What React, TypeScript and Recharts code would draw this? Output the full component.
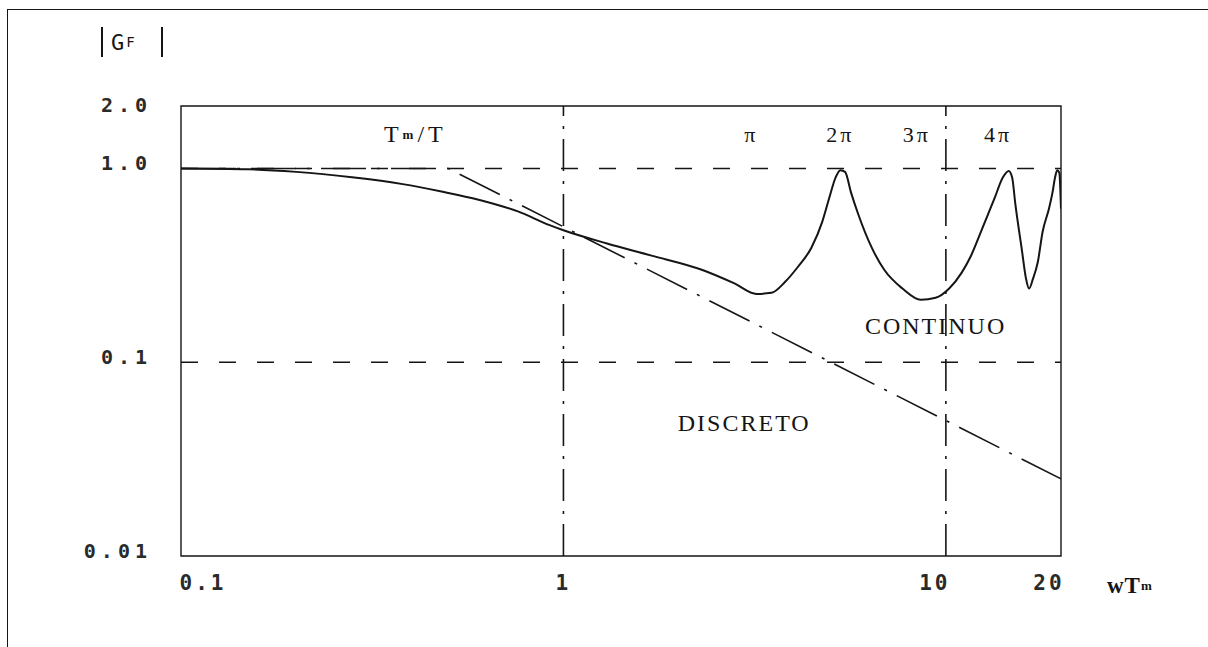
import {
  LineChart,
  Line,
  XAxis,
  YAxis,
  ReferenceLine,
  ReferenceArea,
  ReferenceDot,
} from 'recharts';

// wTm axis (log)
const xTicks = [0.1, 1, 10, 20];
const xTickLabels = ['0.1', '1', '10', '20'];
const xTickShift = [22, 0, -11, -12];

// |GF| axis (log)
const yTicks = [0.01, 0.1, 1, 2];
const yTickLabels = ['0.01', '0.1', '1.0', '2.0'];

// continuous response, read point by point
const solidW = [
  0.1, 0.15, 0.2, 0.28, 0.38, 0.48, 0.6, 0.76, 0.92, 1.0, 1.3, 1.7, 2.3, 2.8,
  3.2, 3.5, 3.8, 4.1, 4.45, 4.75, 4.95, 5.15, 5.3, 5.45, 5.65, 5.9, 6.4, 6.9,
  7.7, 8.6, 9.4, 10.2, 11.0, 11.6, 12.4, 13.4, 14.1, 14.6, 14.9, 15.2, 15.8,
  16.2, 16.5, 16.9, 17.4, 17.9, 18.6, 19.0, 19.3, 19.55, 19.8, 20,
];
const solidG = [
  1.0, 0.99, 0.96, 0.9, 0.83, 0.76, 0.69, 0.6, 0.51, 0.48, 0.41, 0.355, 0.3,
  0.255, 0.225, 0.228, 0.26, 0.31, 0.39, 0.53, 0.7, 0.9, 0.98, 0.96, 0.75,
  0.58, 0.39, 0.3, 0.24, 0.21, 0.215, 0.24, 0.29, 0.35, 0.48, 0.7, 0.9, 0.97,
  0.9, 0.65, 0.38, 0.27, 0.24, 0.27, 0.33, 0.47, 0.62, 0.75, 0.9, 0.98, 0.95,
  0.62,
];

// asymptote (dash-dot)
const asymW = [0.1, 0.5, 20];
const asymG = [1, 1, 0.025];

// labels inside the plot
const piLabels = ['π', '2π', '3π', '4π'];
const piLabelW = [3.1, 5.3, 8.4, 13.7];
const labelRowG = 1.5;

const solidData = solidW.map((w, i) => ({ w, g: solidG[i] }));
const asymData = asymW.map((w, i) => ({ w, g: asymG[i] }));

const ink = '#151515';
const monoSans = '"DejaVu Sans Mono", monospace';
const serif = '"Liberation Serif", serif';

function YTick({ x, y, payload }: any) {
  const i = yTicks.indexOf(payload.value);
  return (
    <text
      x={x - 29}
      y={y - 5}
      textAnchor="end"
      dominantBaseline="central"
      fontFamily={monoSans}
      fontSize={20}
      fontWeight={600}
      letterSpacing={5}
      fill="#2a2a2a"
    >
      {yTickLabels[i]}
    </text>
  );
}

function XTick({ x, y, payload }: any) {
  const i = xTicks.indexOf(payload.value);
  return (
    <text
      x={x + xTickShift[i]}
      y={y + 27}
      textAnchor="middle"
      dominantBaseline="central"
      fontFamily={monoSans}
      fontSize={21}
      fontWeight={600}
      letterSpacing={3}
      fill="#2a2a2a"
    >
      {xTickLabels[i]}
    </text>
  );
}

const textShape = (content: any, size = 22, spacing = 3) => (props: any) => (
  <text
    x={props.cx}
    y={props.cy}
    textAnchor="middle"
    dominantBaseline="central"
    fontFamily={serif}
    fontSize={size}
    letterSpacing={spacing}
    fill={ink}
  >
    {content}
  </text>
);

export default function App() {
  return (
    <div
      style={{
        position: 'fixed',
        left: 0,
        top: 0,
        width: 1208,
        height: 647,
        background: '#fff',
        overflow: 'hidden',
      }}
    >
      <div style={{ position: 'absolute', left: 7, top: 9, width: 1201, borderTop: `1.5px solid ${ink}` }} />
      <div style={{ position: 'absolute', left: 7, top: 9, height: 638, borderLeft: `1.5px solid ${ink}` }} />
      <div style={{ position: 'absolute', left: 0, top: 0 }}>
        <LineChart
          width={1208}
          height={647}
          margin={{ top: 106, right: 147, bottom: 51, left: 0 }}
        >
          <XAxis
            dataKey="w"
            type="number"
            scale="log"
            domain={[0.1, 20]}
            ticks={xTicks}
            allowDataOverflow
            axisLine={false}
            tickLine={false}
            tickSize={0}
            tickMargin={0}
            height={40}
            tick={<XTick />}
            label={{
              content: ({ viewBox }: any) => (
                <text
                  x={viewBox.x + viewBox.width + 46}
                  y={viewBox.y + 29}
                  textAnchor="start"
                  dominantBaseline="central"
                  fontFamily={serif}
                  fontSize={23}
                  fontWeight="bold"
                  letterSpacing={1}
                  fill={ink}
                >
                  wT<tspan fontSize={13}>m</tspan>
                </text>
              ),
            }}
          />
          <YAxis
            dataKey="g"
            type="number"
            scale="log"
            domain={[0.01, 2.1]}
            ticks={yTicks}
            allowDataOverflow
            axisLine={false}
            tickLine={false}
            tickSize={0}
            tickMargin={0}
            width={181}
            tick={<YTick />}
            label={{
              content: ({ viewBox }: any) => (
                <g fill={ink} fontFamily={monoSans}>
                  <line x1={102} y1={viewBox.y - 79} x2={102} y2={viewBox.y - 49} stroke={ink} strokeWidth={2} />
                  <line x1={162} y1={viewBox.y - 79} x2={162} y2={viewBox.y - 49} stroke={ink} strokeWidth={2} />
                  <text x={111} y={viewBox.y - 64} dominantBaseline="central" fontSize={22}>
                    G<tspan fontSize={14} dx={2}>F</tspan>
                  </text>
                </g>
              ),
            }}
          />

          <ReferenceArea
            x1={0.1}
            x2={20}
            y1={0.01}
            y2={2.1}
            fill="none"
            stroke={ink}
            strokeWidth={1.4}
            ifOverflow="visible"
          />
          <ReferenceLine y={1} stroke={ink} strokeWidth={1.4} strokeDasharray="17 21" />
          <ReferenceLine y={0.1} stroke={ink} strokeWidth={1.4} strokeDasharray="17 21" />
          <ReferenceLine x={1} stroke={ink} strokeWidth={1.6} strokeDasharray="32 10 3 10" />
          <ReferenceLine x={10} stroke={ink} strokeWidth={1.6} strokeDasharray="32 10 3 10" />

          <Line
            data={asymData}
            dataKey="g"
            type="linear"
            stroke={ink}
            strokeWidth={1.6}
            strokeDasharray="45 11 3 11"
            dot={false}
            isAnimationActive={false}
          />
          <Line
            data={solidData}
            dataKey="g"
            type="monotone"
            stroke={ink}
            strokeWidth={2}
            dot={false}
            isAnimationActive={false}
          />

          <ReferenceDot
            x={0.41}
            y={labelRowG}
            r={0}
            shape={textShape(
              <>
                T<tspan fontSize={13} fontWeight="bold">m</tspan>/T
              </>,
              24,
              4
            )}
          />
          {piLabels.map((t, i) => (
            <ReferenceDot
              key={t}
              x={piLabelW[i]}
              y={labelRowG}
              r={0}
              shape={textShape(t, 22, 3)}
            />
          ))}
          <ReferenceDot x={9.4} y={0.154} r={0} shape={textShape('CONTINUO', 24, 2)} />
          <ReferenceDot x={2.97} y={0.0486} r={0} shape={textShape('DISCRETO', 24, 2)} />
        </LineChart>
      </div>
    </div>
  );
}
